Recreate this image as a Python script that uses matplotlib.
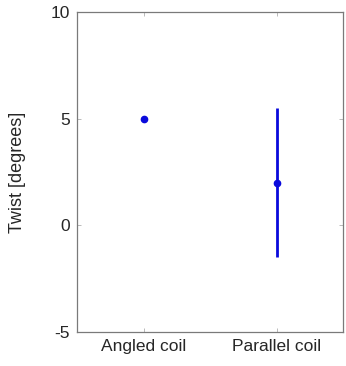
import matplotlib
matplotlib.use("Agg")
import matplotlib.pyplot as plt

categories = ["Angled coil", "Parallel coil"]
twist_mean = [5.0, 2.0]
twist_err = [0.0, 3.5]

plt.rcParams["font.family"] = ["Liberation Sans", "DejaVu Sans"]
plt.rcParams["axes.unicode_minus"] = False

fig = plt.figure(figsize=(3.46, 3.66), dpi=100)
ax = fig.add_axes([0.2225, 0.093, 0.769, 0.874])

positions = list(range(1, len(categories) + 1))
ax.errorbar(positions, twist_mean, yerr=twist_err, fmt="o", ms=4.5,
            color="#0a0adc", ecolor="#0a0adc", elinewidth=2.0, capsize=0)

ax.set_xlim(0.5, 2.5)
ax.set_ylim(-5, 10)
ax.set_xticks(positions)
ax.set_xticklabels(categories)
ax.set_yticks([-5, 0, 5, 10])
ax.set_ylabel("Twist [degrees]", fontsize=13, color="#262626", labelpad=18)

for side in ax.spines.values():
    side.set_color("#7a7a7a")
    side.set_linewidth(0.9)
ax.tick_params(direction="in", top=True, right=True, length=3, width=0.6,
               color="#b0b0b0", labelsize=12.5, labelcolor="#262626", pad=5)

fig.savefig("out.png", dpi=100)
